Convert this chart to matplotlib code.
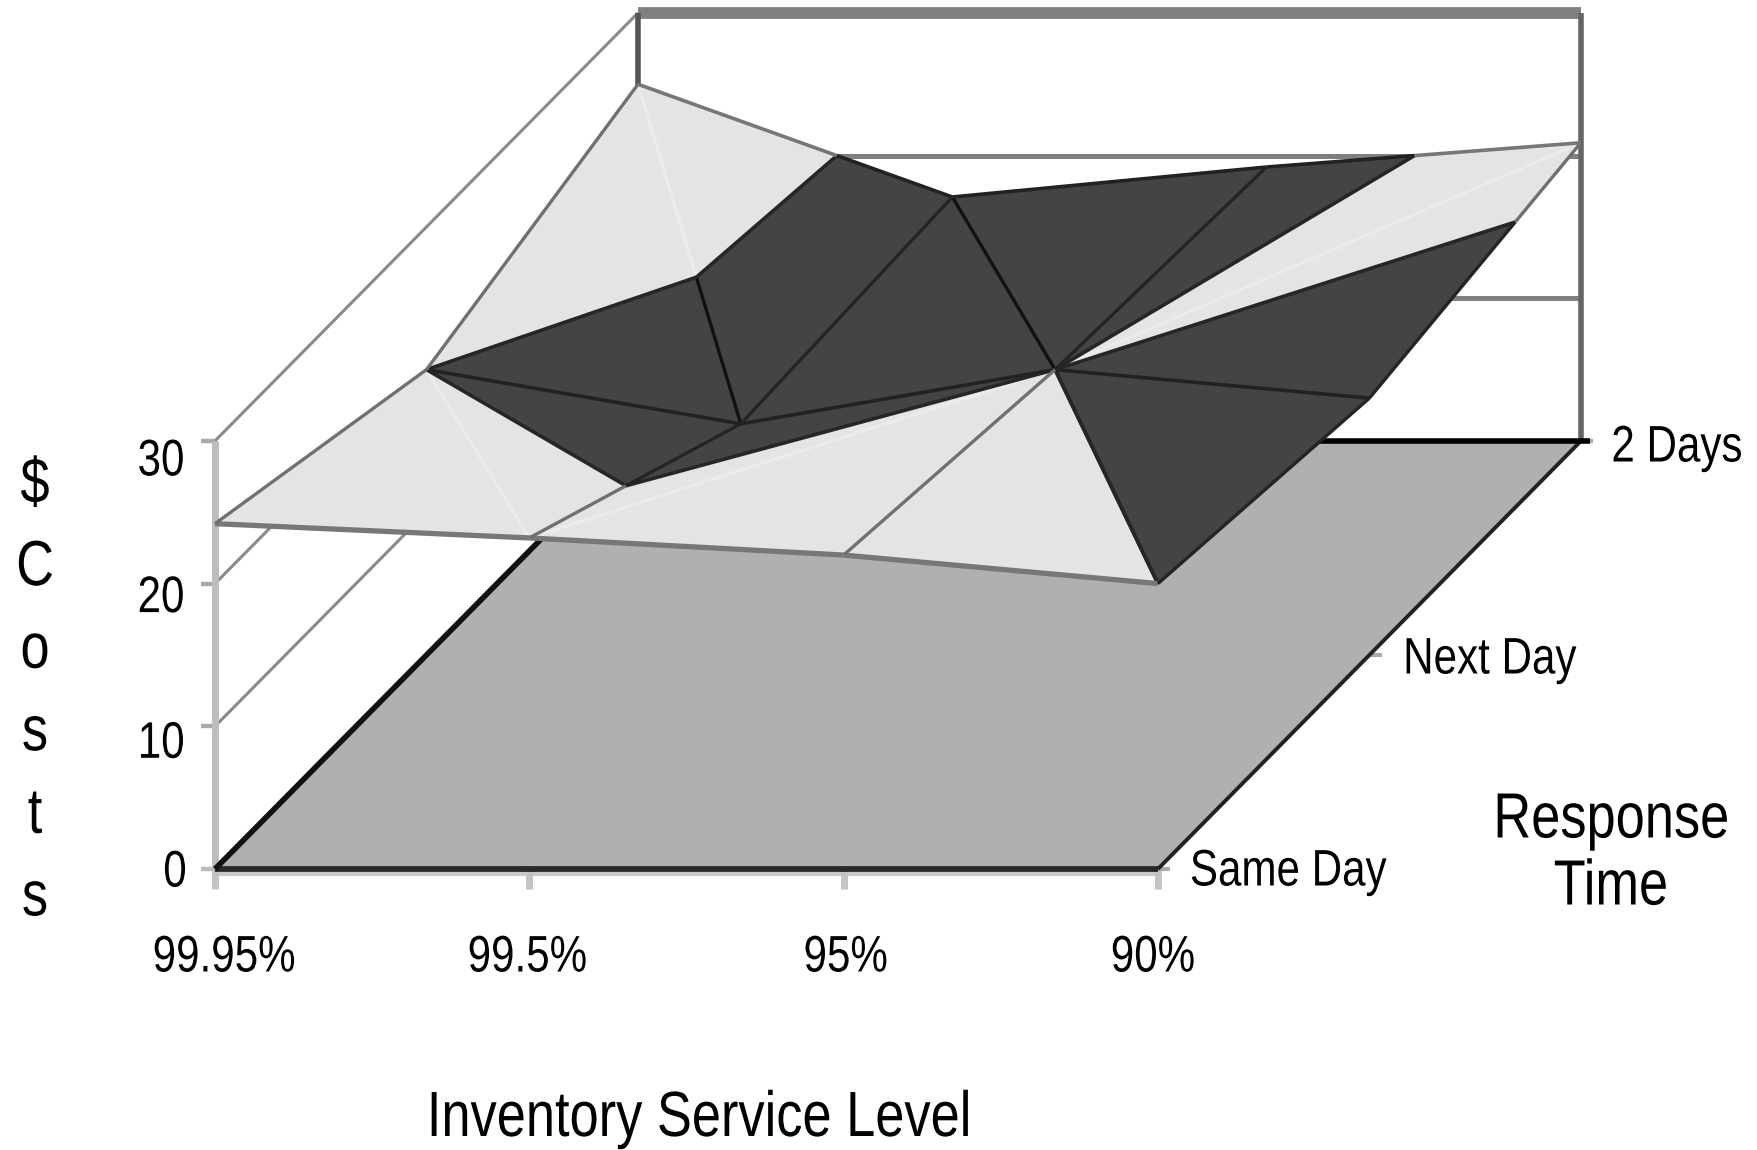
import numpy as np
import matplotlib
matplotlib.use('Agg')
import matplotlib.pyplot as plt
from matplotlib.patheffects import AbstractPathEffect
from matplotlib.transforms import Affine2D

plt.rcParams['font.family'] = ['Liberation Sans', 'DejaVu Sans']

service_levels = ['99.95%', '99.5%', '95%', '90%']
response_times = ['Same Day', 'Next Day', '2 Days']
cost_ticks = [0, 10, 20, 30]

same_day_costs = [24.2, 23.2, 22.0, 20.0]
next_day_costs = [20.0, 16.2, 20.0, 18.0]
two_day_costs = [25.0, 17.1, 19.2, 20.9]
costs = np.array([same_day_costs, next_day_costs, two_day_costs])

# oblique projection of the 3d box, in figure pixels
ORIGIN = (215, 869)
STEP_X = 314.3
DEPTH = (211.5, -214.0)
Z_SCALE = 14.27
BAND = 20

DARK = '#444444'
LIGHT = '#e4e4e4'
FLOOR = '#b0b0b0'

# how each cell is split: True runs from (i, j+1) to (i+1, j),
# False from (i, j) to (i+1, j+1)
back_slash = [[True, False, True],
              [True, True, False]]


class Squeeze(AbstractPathEffect):
    # narrows text around its middle, the fonts here have no condensed cut
    def __init__(self, factor=0.82):
        super().__init__()
        self.factor = factor

    def draw_path(self, renderer, gc, tpath, affine, rgbFace=None):
        box = tpath.get_extents()
        mid = (box.x0 + box.x1) / 2
        squeeze = Affine2D().translate(-mid, 0).scale(self.factor, 1).translate(mid, 0)
        renderer.draw_path(gc, tpath, squeeze + affine, rgbFace)


def proj(i, j, z=0):
    return (ORIGIN[0] + i * STEP_X + j * DEPTH[0],
            ORIGIN[1] + j * DEPTH[1] - z * Z_SCALE)


def clip(tri, above):
    # cut a triangle of (i, j, z) corners at the band level
    out = []
    for k in range(len(tri)):
        a, b = np.array(tri[k]), np.array(tri[(k + 1) % len(tri)])
        a_in = a[2] >= BAND if above else a[2] <= BAND
        b_in = b[2] >= BAND if above else b[2] <= BAND
        if a_in:
            out.append(a)
        if a_in != b_in:
            t = (BAND - a[2]) / (b[2] - a[2])
            out.append(a + t * (b - a))
    return out


def draw_segment(ax, a, b, colour, lw, zorder):
    p, q = proj(*a), proj(*b)
    ax.plot([p[0], q[0]], [p[1], q[1]], color=colour, lw=lw,
            solid_capstyle='butt', zorder=zorder)


def draw_edge(ax, a, b, light_col, dark_col, lw, zorder):
    # an edge of the surface changes colour where it crosses the band
    a, b = np.array(a, float), np.array(b, float)
    if (a[2] - BAND) * (b[2] - BAND) < 0:
        m = a + (BAND - a[2]) / (b[2] - a[2]) * (b - a)
        parts = [(a, m), (m, b)]
    else:
        parts = [(a, b)]
    for s, e in parts:
        col = light_col if (s[2] + e[2]) / 2 >= BAND else dark_col
        draw_segment(ax, s, e, col, lw, zorder)


def label(ax, x, y, s, size):
    ax.text(x, y, s, ha='center', va='center', fontsize=size, color='black',
            parse_math=False, linespacing=1.15, path_effects=[Squeeze()])


fig = plt.figure(figsize=(17.58, 11.5), dpi=100)
ax = fig.add_axes([0, 0, 1, 1])
ax.set_xlim(0, 1758)
ax.set_ylim(1150, 0)
ax.axis('off')

n_i, n_j = len(service_levels), len(response_times)
last_i, last_j = n_i - 1, n_j - 1

# walls
for z in cost_ticks[1:]:
    draw_segment(ax, (0, 0, z), (0, last_j, z), '#8a8a8a', 2.2, 1)
    draw_segment(ax, (0, 0, z), (-0.045, 0, z), '#aaaaaa', 3.2, 1)
    wall_lw = 8.5 if z == cost_ticks[-1] else 3.6
    draw_segment(ax, (0, last_j, z), (last_i, last_j, z), '#808080', wall_lw, 1)
draw_segment(ax, (0, last_j, 0), (0, last_j, cost_ticks[-1]), '#555555', 4, 1.1)
draw_segment(ax, (last_i, last_j, 0), (last_i, last_j, cost_ticks[-1]), '#666666', 4, 1.1)
draw_segment(ax, (0, 0, 0), (0, 0, cost_ticks[-1]), '#bdbdbd', 5, 1.1)

# floor
floor = [proj(0, 0), proj(last_i, 0), proj(last_i, last_j), proj(0, last_j)]
ax.fill([p[0] for p in floor], [p[1] for p in floor], color=FLOOR, lw=0, zorder=2)
draw_segment(ax, (0, 0, -0.35), (last_i, 0, -0.35), '#c8c8c8', 3, 1.5)
draw_segment(ax, (0, 0, 0), (last_i, 0, 0), '#2a2a2a', 4.2, 2.5)
draw_segment(ax, (0, 0, 0), (0, last_j, 0), '#111111', 4, 2.5)
draw_segment(ax, (last_i, 0, 0), (last_i, last_j, 0), '#222222', 2.8, 2.5)
draw_segment(ax, (0, last_j, 0), (last_i + 0.03, last_j, 0), '#000000', 4, 2.5)

# axis ticks
for i in range(n_i):
    p = proj(i, 0)
    ax.plot([p[0], p[0]], [p[1], p[1] + 20], color='#c4c4c4', lw=5,
            solid_capstyle='butt', zorder=1.5)
draw_segment(ax, (0, 0, 0), (-0.045, 0, 0), '#bbbbbb', 3.2, 1.5)
for j in range(n_j):
    draw_segment(ax, (last_i, j, 0), (last_i + 0.04, j, 0), '#aaaaaa', 3, 1.5)

# surface, back row first
for j in range(last_j - 1, -1, -1):
    for i in range(last_i):
        c00 = (i, j, costs[j, i])
        c10 = (i + 1, j, costs[j, i + 1])
        c01 = (i, j + 1, costs[j + 1, i])
        c11 = (i + 1, j + 1, costs[j + 1, i + 1])
        if back_slash[j][i]:
            tris = [(c00, c10, c01), (c01, c10, c11)]
            diag = (c01, c10)
        else:
            tris = [(c00, c10, c11), (c00, c11, c01)]
            diag = (c00, c11)
        for tri in tris:
            for above, col in [(True, LIGHT), (False, DARK)]:
                poly = clip(tri, above)
                if len(poly) > 2:
                    pts = [proj(*c) for c in poly]
                    ax.fill([p[0] for p in pts], [p[1] for p in pts], color=col,
                            lw=0.3, zorder=3)
            # band boundary inside the triangle
            cuts = []
            for k in range(3):
                a, b = tri[k], tri[(k + 1) % 3]
                if (a[2] - BAND) * (b[2] - BAND) < 0:
                    t = (BAND - a[2]) / (b[2] - a[2])
                    cuts.append(tuple(np.array(a) + t * (np.array(b) - np.array(a))))
                elif a[2] == BAND:
                    cuts.append(a)
            if len(cuts) == 2:
                draw_segment(ax, cuts[0], cuts[1], '#262626', 2.6, 4)
        if diag[0][2] != BAND or diag[1][2] != BAND:
            draw_edge(ax, diag[0], diag[1], '#ebebeb', '#111111', 2.4, 3.5)

# surface grid lines on top of the fills
for j in range(n_j):
    for i in range(last_i):
        a, b = (i, j, costs[j, i]), (i + 1, j, costs[j, i + 1])
        if j == 0:
            draw_edge(ax, a, b, '#777777', '#777777', 3.8, 4)
        else:
            draw_edge(ax, a, b, '#777777', '#222222', 2.6, 4)
for i in range(n_i):
    for j in range(last_j):
        a, b = (i, j, costs[j, i]), (i, j + 1, costs[j + 1, i])
        draw_edge(ax, a, b, '#707070', '#242424', 2.4, 4)

# labels
cost_label_nudge = [4, 18, 15, 21]
for z, nudge in zip(cost_ticks, cost_label_nudge):
    p = proj(0, 0, z)
    s = str(z)
    label(ax, p[0] - 54 + (len(s) == 1) * 14, p[1] + nudge, s, 37)

service_label_nudge = [9, -2, 2, -5]
for i, (s, nudge) in enumerate(zip(service_levels, service_label_nudge)):
    label(ax, proj(i, 0)[0] + nudge, 958, s, 37)

response_label_nudge = [130, 120, 96]
for j, (s, nudge) in enumerate(zip(response_times, response_label_nudge)):
    p = proj(last_i, j)
    label(ax, p[0] + nudge, p[1] + 3 + j * 2, s, 37)

label(ax, 699, 1119, 'Inventory Service Level', 46)
label(ax, 1611, 854, 'Response\nTime', 46)

ax.text(35, 692, '$\nC\no\ns\nt\ns', ha='center', va='center', fontsize=46, linespacing=1.48,
        color='black', parse_math=False, path_effects=[Squeeze()])

fig.savefig('out.png', dpi=100)
